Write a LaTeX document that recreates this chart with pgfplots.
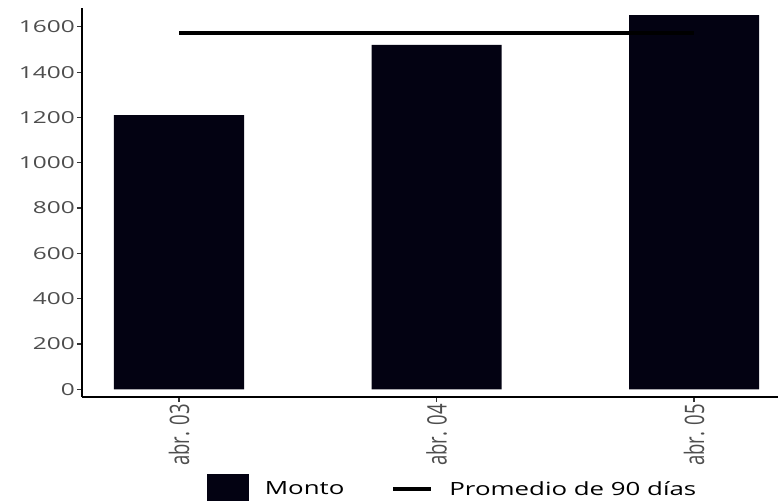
\documentclass[border=0pt]{standalone}
\usepackage{pgfplots}
\pgfplotsset{compat=1.18}
\usepackage{fontspec}
\setmainfont{Open Sans}
\definecolor{barcol}{RGB}{3,2,18}
\definecolor{ticklab}{RGB}{77,77,77}
\begin{document}
\begin{tikzpicture}[x=1pt,y=1pt]
\path[use as bounding box] (-82,-103) rectangle (696,397);
\begin{axis}[
  at={(0,0)}, anchor=south west,
  scale only axis, width=696pt, height=389pt,
  xmin=-0.3767, xmax=2.326, ymin=-34, ymax=1683,
  axis x line*=bottom, axis y line*=left,
  axis line style={black, line width=1.2pt},
  xtick={0,1,2},
  xticklabels={\scalebox{1}[1.45]{abr. 03},\scalebox{1}[1.45]{abr. 04},\scalebox{1}[1.45]{abr. 05}},
  xticklabel style={rotate=90, anchor=east, font=\fontsize{18.5}{20}\selectfont, text=ticklab, inner sep=2pt},
  ytick={0,200,...,1600},
  yticklabel={\scalebox{1.48}[1]{\pgfmathprintnumber{\tick}}},
  yticklabel style={font=\fontsize{16.5}{18}\selectfont, text=ticklab, inner sep=2pt},
  /pgf/number format/assume math mode=true,
  /pgf/number format/1000 sep={},
  scaled y ticks=false,
  tick align=outside, major tick length=5pt,
  tick style={color=black!80, line width=1.2pt},
  legend columns=2,
  legend style={at={(axis description cs:0.531,-0.252)}, anchor=center,
    draw=none, fill=none, inner sep=0pt,
    font=\fontsize{18.2}{20}\selectfont,
    nodes={inner sep=0pt},
    /tikz/every even column/.append style={column sep=47pt},
    /tikz/every odd column/.append style={column sep=16pt}},
]
\addplot[ybar, bar width=0.505, fill=barcol, draw=none,
  legend image code/.code={\fill[barcol] (0pt,-27pt) rectangle (42pt,15pt);}]
  coordinates {(0,1210) (1,1520) (2,1652)};
\addlegendentry{\scalebox{1.42}[1]{Monto}}
\addplot[black, line width=4pt, line cap=butt,
  legend image code/.code={\draw[black, line width=4pt] (0pt,0pt) -- (38pt,0pt);}]
  coordinates {(0,1571) (2,1571)};
\addlegendentry{\scalebox{1.42}[1]{Promedio de 90 días}}
\end{axis}
\end{tikzpicture}
\end{document}
